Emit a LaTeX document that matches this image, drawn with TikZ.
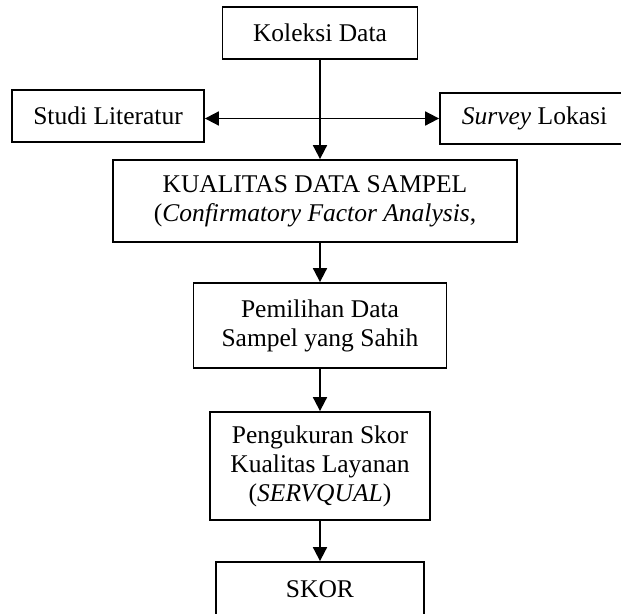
\documentclass[tikz,border=0pt]{standalone}
\usepackage{fontspec}
\setmainfont{Liberation Serif}
\usetikzlibrary{arrows.meta}
\begin{document}
\begin{tikzpicture}[x=1pt, y=-1pt, line width=1.8pt,
    >={Triangle[length=14pt,width=14pt]},
    box/.style = {draw, align=center, inner sep=0pt, font=\fontsize{25.5}{29}\selectfont},
    arrow/.style = {->}]
  \useasboundingbox (0,0) rectangle (621,613);
  % nodes
  \node[box, minimum width=195pt, minimum height=52pt] (koleksi) at (320,33) {Koleksi Data};
  \node[box, minimum width=192pt, minimum height=52pt] (studi) at (108,116) {Studi Literatur};
  \node[box, minimum width=189pt, minimum height=51pt] (survey) at (534.5,118.5) {\textit{Survey} Lokasi};
  \node[box, minimum width=404pt, minimum height=82pt] (kualitas) at (315,201)
    {KUALITAS DATA SAMPEL\\(\textit{Confirmatory Factor Analysis},};
  \node[box, minimum width=253pt, minimum height=85pt] (pemilihan) at (320,325.5)
    {Pemilihan Data\\Sampel yang Sahih};
  \node[box, minimum width=220pt, minimum height=108pt] (pengukuran) at (320,466)
    {Pengukuran Skor\\Kualitas Layanan\\(\textit{SERVQUAL})};
  \node[box, minimum width=208pt, minimum height=54pt] (skor) at (320,589) {SKOR};

  % directed edges
  \draw[arrow] (koleksi) -- (koleksi.south |- kualitas.north);
  \draw[<->] (studi.east |- survey.west) -- (survey.west);
  \draw[arrow] (pemilihan.north |- kualitas.south) -- (pemilihan);
  \draw[arrow] (pemilihan) -- (pengukuran);
  \draw[arrow] (pengukuran) -- (skor);
\end{tikzpicture}
\end{document}
